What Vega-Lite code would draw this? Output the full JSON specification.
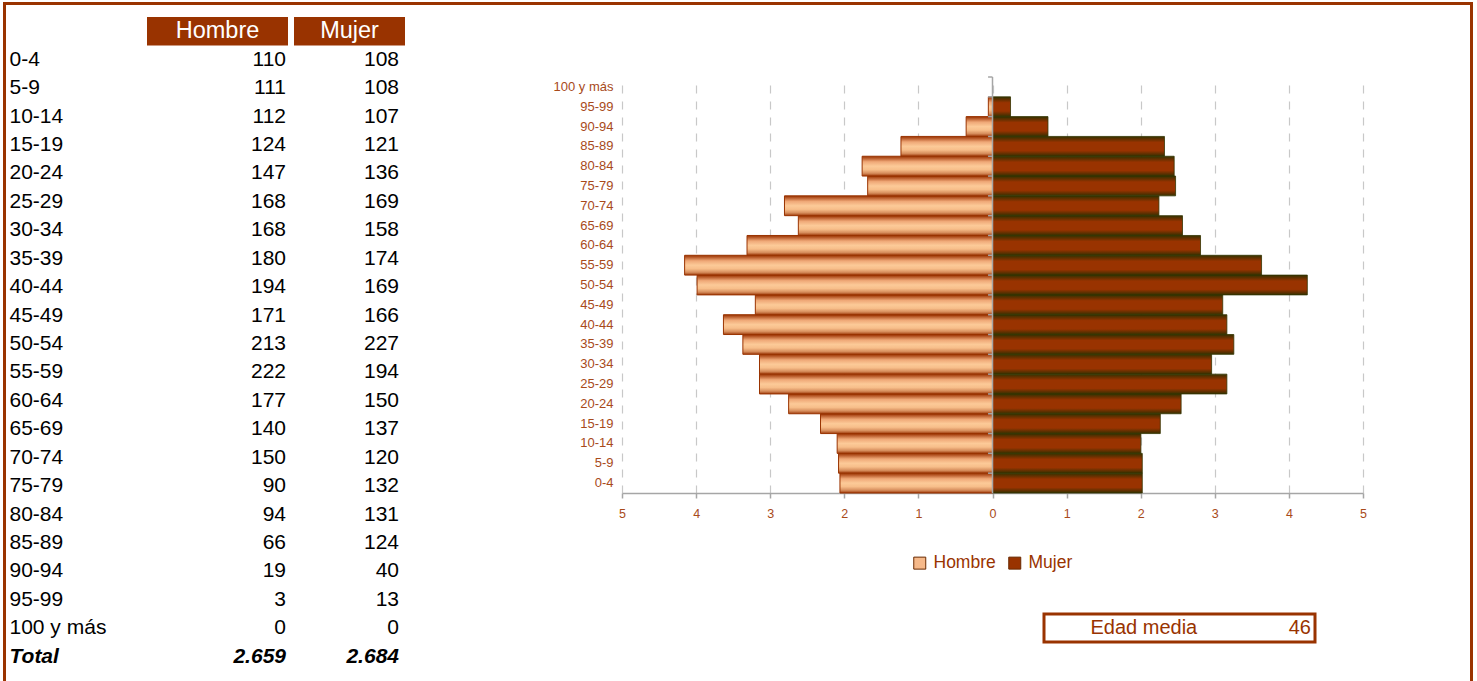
{
 "$schema": "https://vega.github.io/schema/vega-lite/v6.json",
 "background": "white",
 "padding": {"left": 3, "top": 2, "right": 0, "bottom": 0},
 "config": {
  "view": {"stroke": null},
  "font": "Liberation Sans",
  "locale": {"number": {"decimal": ",", "thousands": ".", "grouping": [3], "currency": ["", "€"]}},
  "axis": {"labelFont": "Liberation Sans"},
  "legend": {"labelFont": "Liberation Sans"}
 },
 "datasets": {
  "vacio": [{}],
  "nada": [],
  "cabecera": [{"grupo": "cab", "titulo": "Hombre"}, {"grupo": "cab", "titulo": "Mujer"}],
  "edad": [{"etiqueta": "Edad media", "valor": 46}],
  "tabla": [
   {"grupo": "0-4", "hombre": 110, "mujer": 108},
   {"grupo": "5-9", "hombre": 111, "mujer": 108},
   {"grupo": "10-14", "hombre": 112, "mujer": 107},
   {"grupo": "15-19", "hombre": 124, "mujer": 121},
   {"grupo": "20-24", "hombre": 147, "mujer": 136},
   {"grupo": "25-29", "hombre": 168, "mujer": 169},
   {"grupo": "30-34", "hombre": 168, "mujer": 158},
   {"grupo": "35-39", "hombre": 180, "mujer": 174},
   {"grupo": "40-44", "hombre": 194, "mujer": 169},
   {"grupo": "45-49", "hombre": 171, "mujer": 166},
   {"grupo": "50-54", "hombre": 213, "mujer": 227},
   {"grupo": "55-59", "hombre": 222, "mujer": 194},
   {"grupo": "60-64", "hombre": 177, "mujer": 150},
   {"grupo": "65-69", "hombre": 140, "mujer": 137},
   {"grupo": "70-74", "hombre": 150, "mujer": 120},
   {"grupo": "75-79", "hombre": 90, "mujer": 132},
   {"grupo": "80-84", "hombre": 94, "mujer": 131},
   {"grupo": "85-89", "hombre": 66, "mujer": 124},
   {"grupo": "90-94", "hombre": 19, "mujer": 40},
   {"grupo": "95-99", "hombre": 3, "mujer": 13},
   {"grupo": "100 y más", "hombre": 0, "mujer": 0},
   {"grupo": "Total", "hombre": 2659, "mujer": 2684}
  ],
  "piramide": [
   {"grupo": "0-4", "sexo": "Hombre", "pct": -2.0588},
   {"grupo": "5-9", "sexo": "Hombre", "pct": -2.0775},
   {"grupo": "10-14", "sexo": "Hombre", "pct": -2.0962},
   {"grupo": "15-19", "sexo": "Hombre", "pct": -2.3208},
   {"grupo": "20-24", "sexo": "Hombre", "pct": -2.7513},
   {"grupo": "25-29", "sexo": "Hombre", "pct": -3.1443},
   {"grupo": "30-34", "sexo": "Hombre", "pct": -3.1443},
   {"grupo": "35-39", "sexo": "Hombre", "pct": -3.3689},
   {"grupo": "40-44", "sexo": "Hombre", "pct": -3.6309},
   {"grupo": "45-49", "sexo": "Hombre", "pct": -3.2005},
   {"grupo": "50-54", "sexo": "Hombre", "pct": -3.9865},
   {"grupo": "55-59", "sexo": "Hombre", "pct": -4.1550},
   {"grupo": "60-64", "sexo": "Hombre", "pct": -3.3127},
   {"grupo": "65-69", "sexo": "Hombre", "pct": -2.6202},
   {"grupo": "70-74", "sexo": "Hombre", "pct": -2.8074},
   {"grupo": "75-79", "sexo": "Hombre", "pct": -1.6844},
   {"grupo": "80-84", "sexo": "Hombre", "pct": -1.7593},
   {"grupo": "85-89", "sexo": "Hombre", "pct": -1.2353},
   {"grupo": "90-94", "sexo": "Hombre", "pct": -0.3556},
   {"grupo": "95-99", "sexo": "Hombre", "pct": -0.0561},
   {"grupo": "100 y más", "sexo": "Hombre", "pct": 0},
   {"grupo": "0-4", "sexo": "Mujer", "pct": 2.0213},
   {"grupo": "5-9", "sexo": "Mujer", "pct": 2.0213},
   {"grupo": "10-14", "sexo": "Mujer", "pct": 2.0026},
   {"grupo": "15-19", "sexo": "Mujer", "pct": 2.2646},
   {"grupo": "20-24", "sexo": "Mujer", "pct": 2.5454},
   {"grupo": "25-29", "sexo": "Mujer", "pct": 3.1630},
   {"grupo": "30-34", "sexo": "Mujer", "pct": 2.9571},
   {"grupo": "35-39", "sexo": "Mujer", "pct": 3.2566},
   {"grupo": "40-44", "sexo": "Mujer", "pct": 3.1630},
   {"grupo": "45-49", "sexo": "Mujer", "pct": 3.1069},
   {"grupo": "50-54", "sexo": "Mujer", "pct": 4.2485},
   {"grupo": "55-59", "sexo": "Mujer", "pct": 3.6309},
   {"grupo": "60-64", "sexo": "Mujer", "pct": 2.8074},
   {"grupo": "65-69", "sexo": "Mujer", "pct": 2.5641},
   {"grupo": "70-74", "sexo": "Mujer", "pct": 2.2459},
   {"grupo": "75-79", "sexo": "Mujer", "pct": 2.4705},
   {"grupo": "80-84", "sexo": "Mujer", "pct": 2.4518},
   {"grupo": "85-89", "sexo": "Mujer", "pct": 2.3208},
   {"grupo": "90-94", "sexo": "Mujer", "pct": 0.7486},
   {"grupo": "95-99", "sexo": "Mujer", "pct": 0.2433},
   {"grupo": "100 y más", "sexo": "Mujer", "pct": 0}
  ]
 },
 "spacing": 0,
 "hconcat": [
  {"width": 3, "height": 720, "view": {"fill": "#993300", "stroke": null}, "data": {"name": "nada"}, "mark": "point"},
  {
   "spacing": 12,
   "vconcat": [
    {"width": 1464, "height": 3, "view": {"fill": "#993300", "stroke": null}, "data": {"name": "nada"}, "mark": "point"},
    {
     "spacing": 6,
     "hconcat": [
      {
       "width": 135, "height": 654,
       "data": {"name": "tabla"},
       "encoding": {
        "y": {"field": "grupo", "type": "nominal", "scale": {"domain": ["cab","0-4","5-9","10-14","15-19","20-24","25-29","30-34","35-39","40-44","45-49","50-54","55-59","60-64","65-69","70-74","75-79","80-84","85-89","90-94","95-99","100 y más","Total"], "paddingInner": 0, "paddingOuter": 0}, "axis": null},
        "x": {"value": 0},
        "text": {"field": "grupo"}
       },
       "layer": [
        {"transform": [{"filter": "datum.grupo !== 'Total'"}], "mark": {"type": "text", "align": "left", "baseline": "middle", "dx": 3.5, "fontSize": 21, "color": "#000000"}},
        {"transform": [{"filter": "datum.grupo === 'Total'"}], "mark": {"type": "text", "align": "left", "baseline": "middle", "dx": 3.5, "fontSize": 21, "fontWeight": "bold", "fontStyle": "italic", "color": "#000000"}}
       ]
      },
      {
       "width": 141, "height": 654,
       "layer": [
        {"data": {"name": "cabecera"}, "transform": [{"filter": "datum.titulo === 'Hombre'"}], "mark": {"type": "rect", "color": "#993300"},
         "encoding": {"y": {"field": "grupo", "type": "nominal", "scale": {"domain": ["cab","0-4","5-9","10-14","15-19","20-24","25-29","30-34","35-39","40-44","45-49","50-54","55-59","60-64","65-69","70-74","75-79","80-84","85-89","90-94","95-99","100 y más","Total"], "paddingInner": 0, "paddingOuter": 0}, "axis": null}}},
        {"data": {"name": "cabecera"}, "transform": [{"filter": "datum.titulo === 'Hombre'"}], "mark": {"type": "text", "color": "#FFFFFF", "fontSize": 23.5, "baseline": "middle"},
         "encoding": {"y": {"field": "grupo", "type": "nominal"}, "text": {"field": "titulo"}}},
        {"data": {"name": "tabla"}, "transform": [{"filter": "datum.grupo !== 'Total'"}], "mark": {"type": "text", "align": "right", "baseline": "middle", "dx": -2, "fontSize": 21, "color": "#000000"},
         "encoding": {"y": {"field": "grupo", "type": "nominal"}, "x": {"value": "width"}, "text": {"field": "hombre", "type": "quantitative", "format": ",d"}}},
        {"data": {"name": "tabla"}, "transform": [{"filter": "datum.grupo === 'Total'"}], "mark": {"type": "text", "align": "right", "baseline": "middle", "dx": -2, "fontSize": 21, "fontWeight": "bold", "fontStyle": "italic", "color": "#000000"},
         "encoding": {"y": {"field": "grupo", "type": "nominal"}, "x": {"value": "width"}, "text": {"field": "hombre", "type": "quantitative", "format": ",d"}}}
       ]
      },
      {
       "width": 111, "height": 654,
       "layer": [
        {"data": {"name": "cabecera"}, "transform": [{"filter": "datum.titulo === 'Mujer'"}], "mark": {"type": "rect", "color": "#993300"},
         "encoding": {"y": {"field": "grupo", "type": "nominal", "scale": {"domain": ["cab","0-4","5-9","10-14","15-19","20-24","25-29","30-34","35-39","40-44","45-49","50-54","55-59","60-64","65-69","70-74","75-79","80-84","85-89","90-94","95-99","100 y más","Total"], "paddingInner": 0, "paddingOuter": 0}, "axis": null}}},
        {"data": {"name": "cabecera"}, "transform": [{"filter": "datum.titulo === 'Mujer'"}], "mark": {"type": "text", "color": "#FFFFFF", "fontSize": 23.5, "baseline": "middle"},
         "encoding": {"y": {"field": "grupo", "type": "nominal"}, "text": {"field": "titulo"}}},
        {"data": {"name": "tabla"}, "transform": [{"filter": "datum.grupo !== 'Total'"}], "mark": {"type": "text", "align": "right", "baseline": "middle", "dx": -6, "fontSize": 21, "color": "#000000"},
         "encoding": {"y": {"field": "grupo", "type": "nominal"}, "x": {"value": "width"}, "text": {"field": "mujer", "type": "quantitative", "format": ",d"}}},
        {"data": {"name": "tabla"}, "transform": [{"filter": "datum.grupo === 'Total'"}], "mark": {"type": "text", "align": "right", "baseline": "middle", "dx": -6, "fontSize": 21, "fontWeight": "bold", "fontStyle": "italic", "color": "#000000"},
         "encoding": {"y": {"field": "grupo", "type": "nominal"}, "x": {"value": "width"}, "text": {"field": "mujer", "type": "quantitative", "format": ",d"}}}
       ]
      },
      {
       "spacing": 0,
       "vconcat": [
        {"width": 10, "height": 59, "data": {"name": "nada"}, "mark": "point"},
        {
         "width": 741, "height": 416,
         "data": {"name": "piramide"},
         "layer": [
          {"transform": [{"filter": "datum.sexo === 'Hombre' && datum.pct !== 0"}],
           "mark": {"type": "bar", "stroke": "#993300", "strokeWidth": 1,
             "fill": {"gradient": "linear", "x1": 0, "y1": 0, "x2": 0, "y2": 1, "stops": [
               {"offset": 0, "color": "#993300"}, {"offset": 0.1, "color": "#B85A2A"}, {"offset": 0.28, "color": "#EFA877"},
               {"offset": 0.5, "color": "#FCCA98"}, {"offset": 0.68, "color": "#F7BE8A"}, {"offset": 0.86, "color": "#D68D5C"}, {"offset": 1, "color": "#9E3A0A"}]}},
           "encoding": {
            "y": {"field": "grupo", "type": "nominal", "scale": {"domain": ["100 y más","95-99","90-94","85-89","80-84","75-79","70-74","65-69","60-64","55-59","50-54","45-49","40-44","35-39","30-34","25-29","20-24","15-19","10-14","5-9","0-4"], "paddingInner": 0, "paddingOuter": 0},
              "axis": {"title": null, "domain": false, "ticks": false, "labelPadding": 9, "labelFontSize": 13, "labelColor": "#A84A1A", "minExtent": 211}},
            "x": {"field": "pct", "type": "quantitative", "scale": {"domain": [-5, 5], "nice": false},
              "axis": {"title": null, "values": [-5,-4,-3,-2,-1,0,1,2,3,4,5], "labelExpr": "format(abs(datum.value),'d')", "grid": true, "gridColor": "#C8C8C8", "gridDash": [8, 8], "gridWidth": 1.2,
                "domainColor": "#A6A6A6", "domainWidth": 1.5, "tickColor": "#A6A6A6", "tickWidth": 1.5, "tickSize": 5, "labelColor": "#A84A1A", "labelFontSize": 12.5, "labelPadding": 9, "labelFlush": false, "labelOverlap": false}}
           }},
          {"transform": [{"filter": "datum.sexo === 'Mujer' && datum.pct !== 0"}],
           "mark": {"type": "bar", "stroke": "#333300", "strokeWidth": 0.8,
             "fill": {"gradient": "linear", "x1": 0, "y1": 0, "x2": 0, "y2": 1, "stops": [
               {"offset": 0, "color": "#333300"}, {"offset": 0.15, "color": "#663000"}, {"offset": 0.3, "color": "#993300"},
               {"offset": 0.72, "color": "#993300"}, {"offset": 0.88, "color": "#603000"}, {"offset": 1, "color": "#333300"}]}},
           "encoding": {"y": {"field": "grupo", "type": "nominal"}, "x": {"field": "pct", "type": "quantitative"}}},
          {"mark": {"type": "square", "opacity": 0},
           "encoding": {"y": {"field": "grupo", "type": "nominal"}, "x": {"field": "pct", "type": "quantitative"},
            "color": {"field": "sexo", "type": "nominal", "scale": {"domain": ["Hombre", "Mujer"], "range": ["#F6B98A", "#993300"]},
             "legend": {"orient": "none", "legendX": 908, "legendY": 552, "direction": "horizontal", "title": null, "symbolType": "square", "symbolSize": 144,
               "symbolStrokeColor": "#6A2A00", "symbolStrokeWidth": 1, "symbolOpacity": 1, "labelFontSize": 17.5, "labelColor": "#993300", "labelOffset": 5, "columnPadding": 10}}}},
          {"transform": [{"filter": "datum.sexo === 'Mujer'"}], "mark": {"type": "rule", "color": "#A6A6A6", "strokeWidth": 1.5},
           "encoding": {"y": {"field": "grupo", "type": "nominal", "bandPosition": 0}, "x": {"datum": -0.06}, "x2": {"datum": 0}}},
          {"data": {"name": "vacio"}, "mark": {"type": "rule", "color": "#A6A6A6", "strokeWidth": 1.5}, "encoding": {"x": {"datum": 0}}}
         ]
        },
        {"width": 10, "height": 92, "data": {"name": "nada"}, "mark": "point"},
        {
         "spacing": 0,
         "hconcat": [
          {"width": 420, "height": 28, "data": {"name": "nada"}, "mark": "point"},
          {
           "width": 271, "height": 28,
           "view": {"stroke": "#993300", "strokeWidth": 3},
           "data": {"name": "edad"},
           "layer": [
            {"mark": {"type": "text", "align": "left", "baseline": "middle", "fontSize": 20, "color": "#993300", "dx": 46.5}, "encoding": {"x": {"value": 0}, "text": {"field": "etiqueta"}}},
            {"mark": {"type": "text", "align": "right", "baseline": "middle", "fontSize": 20, "color": "#993300", "dx": -4}, "encoding": {"x": {"value": "width"}, "text": {"field": "valor", "type": "quantitative"}}}
           ]
          }
         ]
        }
       ]
      }
     ]
    }
   ]
  },
  {"width": 3, "height": 720, "view": {"fill": "#993300", "stroke": null}, "data": {"name": "nada"}, "mark": "point"}
 ]
}
